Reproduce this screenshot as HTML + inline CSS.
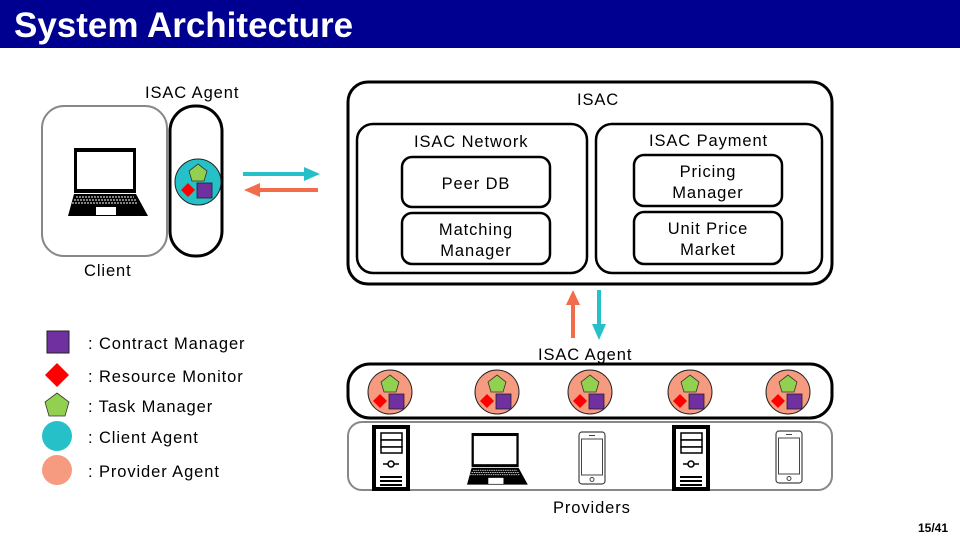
<!DOCTYPE html>
<html><head><meta charset="utf-8"><style>
html,body{margin:0;padding:0;background:#fff;}
svg{display:block;}
text{font-family:"Liberation Sans","DejaVu Sans",sans-serif;fill:#000;}
.t{font-size:16.5px;letter-spacing:0.9px;}
</style></head><body>
<svg width="960" height="540" viewBox="0 0 960 540" xmlns="http://www.w3.org/2000/svg">
<defs>
<g id="icons">
  <polygon points="0,-17 9,-10 6,0 -6,0 -9,-10" fill="#92d050" stroke="#333" stroke-width="0.8"/>
  <rect x="-1" y="2" width="15" height="15" fill="#7030a0" stroke="#222" stroke-width="0.8"/>
  <polygon points="-10,2 -3,9 -10,16 -17,9" fill="#ff0000"/>
</g>
<g id="pa"><circle r="22" fill="#f79b80" stroke="#222" stroke-width="1"/><use href="#icons"/></g>
<g id="server">
  <rect x="0" y="0" width="34" height="62" fill="#fff" stroke="#000" stroke-width="4"/>
  <rect x="7" y="6" width="21" height="7" fill="#fff" stroke="#000" stroke-width="1.5"/>
  <rect x="7" y="13" width="21" height="7" fill="#fff" stroke="#000" stroke-width="1.5"/>
  <rect x="7" y="20" width="21" height="6" fill="#fff" stroke="#000" stroke-width="1.5"/>
  <line x1="9" y1="37" x2="25" y2="37" stroke="#000" stroke-width="1.5"/>
  <circle cx="17" cy="37" r="3" fill="#fff" stroke="#000" stroke-width="1.5"/>
  <rect x="6" y="49" width="22" height="2" fill="#000"/>
  <rect x="6" y="53" width="22" height="2" fill="#000"/>
  <rect x="6" y="57" width="22" height="2" fill="#000"/>
</g>
<g id="phone">
  <rect x="0" y="0" width="26" height="52" rx="3" fill="#fff" stroke="#444" stroke-width="1.2"/>
  <rect x="2.5" y="7" width="21" height="36" fill="#fff" stroke="#444" stroke-width="1"/>
  <circle cx="13" cy="47.5" r="2" fill="none" stroke="#444" stroke-width="1"/>
  <line x1="10" y1="3.5" x2="16" y2="3.5" stroke="#444" stroke-width="1"/>
</g>
<g id="laptop">
  <rect x="6" y="0" width="62" height="45" fill="#000"/>
  <rect x="9" y="4" width="56" height="37" fill="#fff"/>
  <polygon points="6,46 68,46 80,68 0,68" fill="#000"/>
  <g stroke="#fff" stroke-width="1" stroke-dasharray="2,1">
    <line x1="8" y1="49" x2="66" y2="49"/><line x1="6" y1="52" x2="68" y2="52"/><line x1="4" y1="55" x2="70" y2="55"/>
  </g>
  <rect x="28" y="59" width="20" height="8" fill="#fff"/>
</g>
</defs>

<rect x="0" y="0" width="960" height="48" fill="#000090"/>
<text x="14" y="37" font-size="35" font-weight="bold" style="fill:#fff">System Architecture</text>

<!-- client -->
<text x="145" y="98" class="t">ISAC Agent</text>
<rect x="42" y="106" width="125" height="150" rx="22" fill="#fff" stroke="#888" stroke-width="2"/>
<use href="#laptop" x="68" y="148"/>
<rect x="170" y="106" width="52" height="150" rx="25" fill="#fff" stroke="#000" stroke-width="3"/>
<circle cx="198" cy="182" r="23" fill="#26c0c9" stroke="#222" stroke-width="1"/>
<use href="#icons" x="198" y="181"/>
<text x="84" y="276" class="t">Client</text>

<!-- horizontal arrows -->
<line x1="243" y1="174" x2="306" y2="174" stroke="#26c0c9" stroke-width="4"/>
<polygon points="304,167 320,174 304,181" fill="#26c0c9"/>
<line x1="258" y1="190" x2="318" y2="190" stroke="#f26b4a" stroke-width="4"/>
<polygon points="260,183 244,190 260,197" fill="#f26b4a"/>

<!-- ISAC -->
<rect x="348" y="82" width="484" height="202" rx="20" fill="#fff" stroke="#000" stroke-width="3"/>
<text x="577" y="105" class="t">ISAC</text>
<rect x="357" y="124" width="230" height="149" rx="16" fill="#fff" stroke="#000" stroke-width="2.5"/>
<rect x="596" y="124" width="226" height="149" rx="16" fill="#fff" stroke="#000" stroke-width="2.5"/>
<text x="414" y="147" class="t">ISAC Network</text>
<text x="649" y="146" class="t">ISAC Payment</text>
<rect x="402" y="157" width="148" height="50" rx="10" fill="#fff" stroke="#000" stroke-width="2.5"/>
<rect x="402" y="213" width="148" height="51" rx="10" fill="#fff" stroke="#000" stroke-width="2.5"/>
<rect x="634" y="155" width="148" height="51" rx="10" fill="#fff" stroke="#000" stroke-width="2.5"/>
<rect x="634" y="212" width="148" height="52" rx="10" fill="#fff" stroke="#000" stroke-width="2.5"/>
<text x="476" y="189" class="t" text-anchor="middle">Peer DB</text>
<text x="476" y="235" class="t" text-anchor="middle">Matching</text>
<text x="476" y="256" class="t" text-anchor="middle">Manager</text>
<text x="708" y="177" class="t" text-anchor="middle">Pricing</text>
<text x="708" y="198" class="t" text-anchor="middle">Manager</text>
<text x="708" y="234" class="t" text-anchor="middle">Unit Price</text>
<text x="708" y="255" class="t" text-anchor="middle">Market</text>

<!-- vertical arrows -->
<line x1="573" y1="338" x2="573" y2="303" stroke="#f26b4a" stroke-width="4"/>
<polygon points="566,305 573,290 580,305" fill="#f26b4a"/>
<line x1="599" y1="290" x2="599" y2="326" stroke="#26c0c9" stroke-width="4"/>
<polygon points="592,324 599,340 606,324" fill="#26c0c9"/>
<text x="538" y="360" class="t">ISAC Agent</text>

<!-- providers -->
<rect x="348" y="364" width="484" height="54" rx="22" fill="#fff" stroke="#000" stroke-width="3"/>
<use href="#pa" x="390" y="392"/>
<use href="#pa" x="497" y="392"/>
<use href="#pa" x="590" y="392"/>
<use href="#pa" x="690" y="392"/>
<use href="#pa" x="788" y="392"/>
<rect x="348" y="422" width="484" height="68" rx="14" fill="#fff" stroke="#888" stroke-width="2"/>
<use href="#server" x="374" y="427"/>
<g transform="translate(467,433) scale(0.76)"><use href="#laptop"/></g>
<use href="#phone" x="579" y="432"/>
<use href="#server" x="674" y="427"/>
<use href="#phone" x="776" y="431"/>
<text x="553" y="513" class="t">Providers</text>

<!-- legend -->
<rect x="47" y="331" width="22" height="22" fill="#7030a0" stroke="#222" stroke-width="1"/>
<polygon points="57,363 69,375 57,387 45,375" fill="#ff0000"/>
<polygon points="57,393 69,402 65,416 49,416 45,402" fill="#92d050" stroke="#333" stroke-width="0.8"/>
<circle cx="57" cy="436" r="15" fill="#26c0c9"/>
<circle cx="57" cy="470" r="15" fill="#f79b80"/>
<text x="88" y="349" class="t">: Contract Manager</text>
<text x="88" y="382" class="t">: Resource Monitor</text>
<text x="88" y="412" class="t">: Task Manager</text>
<text x="88" y="443" class="t">: Client Agent</text>
<text x="88" y="477" class="t">: Provider Agent</text>

<text x="918" y="532" font-size="12" font-weight="bold">15/41</text>
</svg>
</body></html>
